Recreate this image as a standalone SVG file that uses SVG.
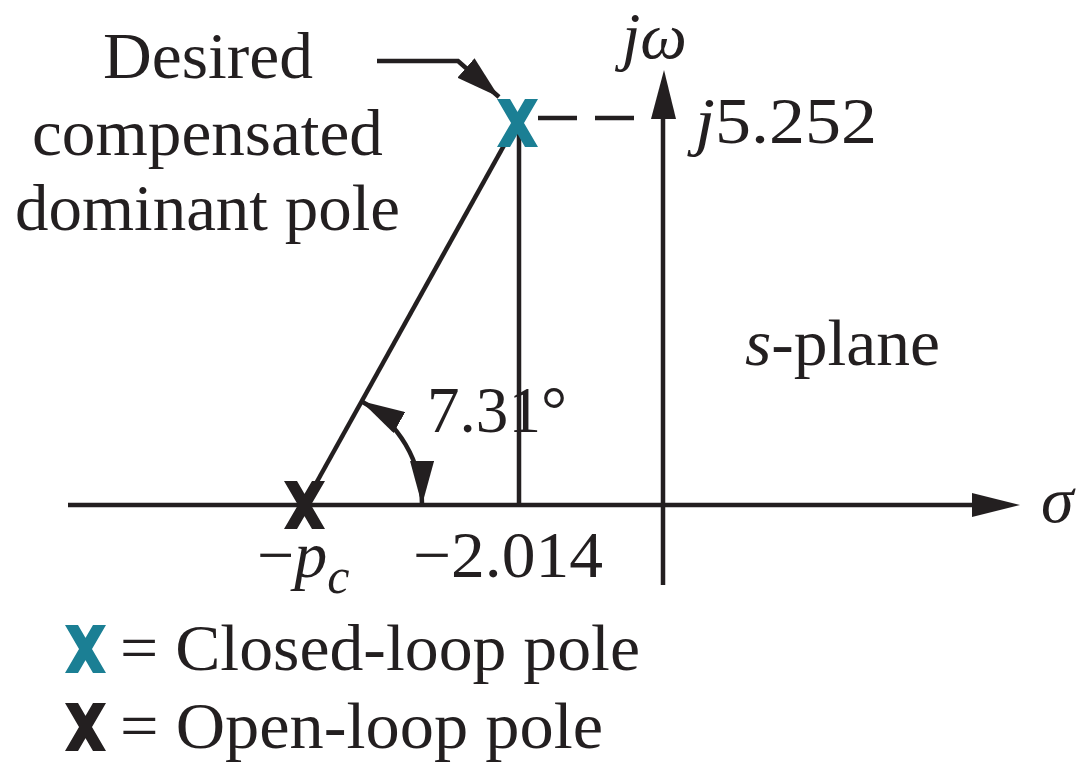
<svg xmlns="http://www.w3.org/2000/svg" width="1078" height="762" viewBox="0 0 1078 762">
  <style>
    .t { font-family: "Liberation Serif", "Times New Roman", serif; font-size: 66px; fill: #231f20; }
    .i { font-style: italic; }
    .ln { stroke: #231f20; stroke-width: 4.5; fill: none; }
    .ah { fill: #231f20; }
    .cl { fill: #1b7f94; }
    .ol { fill: #231f20; }
  </style>
  <defs>
    <path id="xmark" d="M0,0 H13 L41,48 H28 Z M28,0 H41 L13,48 H0 Z"/>
    <marker id="arr" markerUnits="userSpaceOnUse" viewBox="0 0 44 24" markerWidth="44" markerHeight="24" refX="44" refY="12" orient="auto-start-reverse">
      <path d="M0,0 L44,12 L0,24 Z" class="ah"/>
    </marker>
    <marker id="arrS" markerUnits="userSpaceOnUse" viewBox="0 0 44 26" markerWidth="44" markerHeight="26" refX="44" refY="13" orient="auto">
      <path d="M0,0 L44,13 L0,26 Z" class="ah"/>
    </marker>
  </defs>
  <rect width="1078" height="762" fill="#ffffff"/>

  <g id="connectors">
    <line class="ln" x1="68" y1="505" x2="975" y2="505"/>
    <polygon class="ah" points="972,493 1020,505 972,517"/>
    <line class="ln" x1="663" y1="585" x2="663" y2="116"/>
    <polygon class="ah" points="651,119 664,70 676,119"/>
    <line class="ln" x1="538" y1="118" x2="634" y2="118" stroke-dasharray="39 18"/>
    <line class="ln" x1="519" y1="122" x2="519" y2="505"/>
    <line class="ln" x1="304" y1="505" x2="517" y2="122"/>
    <path class="ln" d="M361,401 A119,119 0 0,1 422,505" marker-start="url(#arr)" marker-end="url(#arr)"/>
    <path class="ln" d="M377,61 H458 L499,97" marker-end="url(#arrS)"/>
  </g>

  <g id="closed-loop-pole">
    <use href="#xmark" class="cl" x="497" y="99"/>
  </g>
  <g id="open-loop-pole">
    <use href="#xmark" class="ol" x="284" y="481"/>
  </g>

  <g id="label-desired">
    <text class="t" x="103" y="78" textLength="210" lengthAdjust="spacingAndGlyphs">Desired</text>
    <text class="t" x="32" y="155" textLength="351" lengthAdjust="spacingAndGlyphs">compensated</text>
    <text class="t" x="15" y="230" textLength="385" lengthAdjust="spacingAndGlyphs">dominant pole</text>
  </g>
  <g id="label-jw">
    <text class="t i" x="622" y="58" font-size="64">jω</text>
  </g>
  <g id="label-j5252">
    <text class="t" x="695" y="143" textLength="182" lengthAdjust="spacingAndGlyphs"><tspan class="i">j</tspan>5.252</text>
  </g>
  <g id="label-splane">
    <text class="t" x="745" y="365" textLength="195" lengthAdjust="spacingAndGlyphs"><tspan class="i">s</tspan>-plane</text>
  </g>
  <g id="label-angle">
    <text class="t" x="427" y="432" textLength="140" lengthAdjust="spacingAndGlyphs">7.31°</text>
  </g>
  <g id="label-sigma">
    <text class="t i" x="1041" y="522">σ</text>
  </g>
  <g id="label-pc">
    <text class="t" x="257" y="577">−<tspan class="i">p</tspan><tspan class="i" font-size="50" dy="16">c</tspan></text>
  </g>
  <g id="label-2014">
    <text class="t" x="413" y="577" textLength="190" lengthAdjust="spacingAndGlyphs">−2.014</text>
  </g>

  <g id="legend">
    <use href="#xmark" class="cl" x="65" y="625"/>
    <text class="t" x="120" y="670" textLength="520" lengthAdjust="spacingAndGlyphs">= Closed-loop pole</text>
    <use href="#xmark" class="ol" x="65" y="703"/>
    <text class="t" x="120" y="748" textLength="483" lengthAdjust="spacingAndGlyphs">= Open-loop pole</text>
  </g>
</svg>
